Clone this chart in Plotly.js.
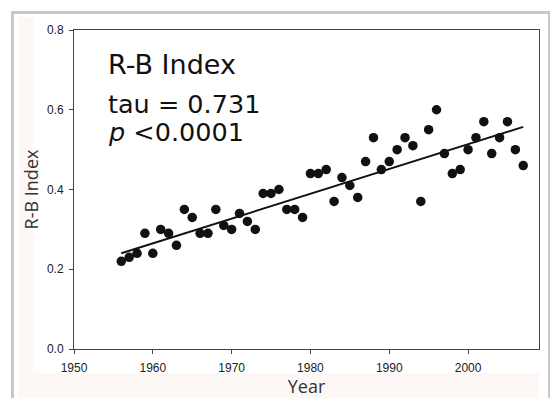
<!DOCTYPE html>
<html>
<head>
<meta charset="utf-8">
<script src="https://cdn.plot.ly/plotly-3.0.1.min.js"></script>
<style>html,body{margin:0;padding:0;background:#fff;}#chart{width:553px;height:398px;}</style>
</head>
<body>
<div id="chart"></div>
<script>
// Data
const years = [1956,1957,1958,1959,1960,1961,1962,1963,1964,1965,1966,1967,1968,1969,1970,
  1971,1972,1973,1974,1975,1976,1977,1978,1979,1980,1981,1982,1983,1984,1985,1986,1987,1988,
  1989,1990,1991,1992,1993,1994,1995,1996,1997,1998,1999,2000,2001,2002,2003,2004,2005,2006,2007];
const rbIndex = [0.22,0.23,0.24,0.29,0.24,0.30,0.29,0.26,0.35,0.33,0.29,0.29,0.35,0.31,0.30,
  0.34,0.32,0.30,0.39,0.39,0.40,0.35,0.35,0.33,0.44,0.44,0.45,0.37,0.43,0.41,0.38,0.47,0.53,
  0.45,0.47,0.50,0.53,0.51,0.37,0.55,0.60,0.49,0.44,0.45,0.50,0.53,0.57,0.49,0.53,0.57,0.50,0.46];
const trendYears = [1956, 2007];
const trendValues = [0.24, 0.557];
const xTickVals = [1950,1960,1970,1980,1990,2000];
const yTickVals = [0.0,0.2,0.4,0.6,0.8];
const titleLine = "R-B Index";
const tauLine = "tau = 0.731";
const pLine = "<i>p</i> &lt;0.0001";

const axisCol = '#444';
const tickFont = {family: 'Liberation Sans, Arial, sans-serif', size: 12, color: '#222'};
const noteFont = {family: 'DejaVu Sans, sans-serif', size: 25.5, color: '#111'};
const titleNoteFont = {family: 'DejaVu Sans, sans-serif', size: 27, color: '#111'};
const titleFont = {family: 'Open Sans, sans-serif', size: 18, color: '#333'};

const traces = [
  {x: years, y: rbIndex, type: 'scatter', mode: 'markers',
   marker: {color: '#111', size: 9.5, line: {width: 0}}, hoverinfo: 'x+y', showlegend: false},
  {x: trendYears, y: trendValues, type: 'scatter', mode: 'lines',
   line: {color: '#111', width: 2}, hoverinfo: 'skip', showlegend: false}
];

const layout = {
  width: 553, height: 398,
  margin: {l: 74, r: 14, t: 30, b: 49},
  paper_bgcolor: '#ffffff',
  plot_bgcolor: '#ffffff',
  showlegend: false,
  xaxis: {
    range: [1950, 2009], tickvals: xTickVals, ticks: 'outside', ticklen: 4, tickwidth: 1,
    tickcolor: axisCol, showline: true, mirror: true, linecolor: axisCol, linewidth: 1,
    showgrid: false, zeroline: false, tickfont: tickFont, ticklabelstandoff: 4,
    title: {text: 'Year', font: titleFont, standoff: 7}
  },
  yaxis: {
    range: [0, 0.8], tickvals: yTickVals, tickformat: '.1f', ticks: 'outside', ticklen: 4, tickwidth: 1,
    tickcolor: axisCol, showline: true, mirror: true, linecolor: axisCol, linewidth: 1,
    showgrid: false, zeroline: false, tickfont: tickFont, ticklabelstandoff: 3,
    title: {text: 'R-B Index', font: titleFont, standoff: 3}
  },
  shapes: [
    {type: 'rect', xref: 'paper', yref: 'paper', x0: -0.1183, x1: 1.0, y0: -0.16, y1: 1.0408,
     fillcolor: '#fdf8f5', line: {width: 0}, layer: 'below'},
    {type: 'rect', xref: 'paper', yref: 'paper', x0: -0.0882, x1: 1.0, y0: -0.0752, y1: 1.0408,
     fillcolor: '#ffffff', line: {width: 0}, layer: 'below'},
    {type: 'line', xref: 'paper', yref: 'paper', x0: -0.1323, x1: -0.1323, y0: -0.16, y1: 1.0564,
     line: {color: '#c8c8c8', width: 3}, layer: 'below'},
    {type: 'line', xref: 'paper', yref: 'paper', x0: -0.1355, x1: 1.0242, y0: 1.0549, y1: 1.0549,
     line: {color: '#c8c8c8', width: 3}, layer: 'below'},
    {type: 'line', xref: 'paper', yref: 'paper', x0: 1.0215, x1: 1.0215, y0: -0.16, y1: 1.0564,
     line: {color: '#c8c8c8', width: 2}, layer: 'below'}
  ],
  annotations: [
    {text: titleLine, xref: 'paper', yref: 'paper', x: 0.068, y: 0.893, xanchor: 'left', yanchor: 'middle',
     showarrow: false, font: titleNoteFont},
    {text: tauLine, xref: 'paper', yref: 'paper', x: 0.068, y: 0.768, xanchor: 'left', yanchor: 'middle',
     showarrow: false, font: noteFont},
    {text: pLine, xref: 'paper', yref: 'paper', x: 0.068, y: 0.679, xanchor: 'left', yanchor: 'middle',
     showarrow: false, font: noteFont}
  ]
};

Plotly.newPlot('chart', traces, layout, {displayModeBar: false, staticPlot: true});
</script>
</body>
</html>
